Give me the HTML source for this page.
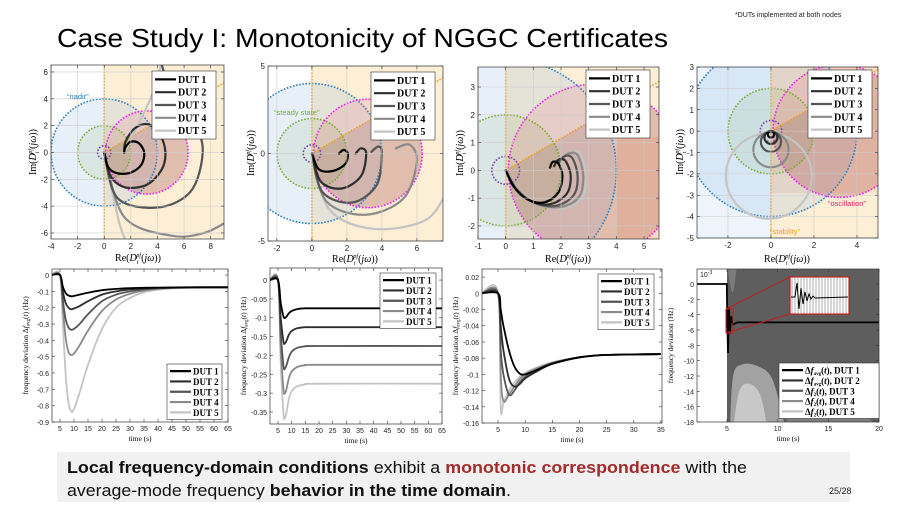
<!DOCTYPE html>
<html><head><meta charset="utf-8"><style>
html,body{margin:0;padding:0;background:#fff;}
svg{display:block;}
.tk{font:8px "Liberation Sans",sans-serif;fill:#222;}
.tks{font:7px "Liberation Sans",sans-serif;fill:#222;}
.lg{font:bold 10px "Liberation Serif",serif;fill:#000;}
.lgs{font:bold 9px "Liberation Serif",serif;fill:#000;}
.ax{font:10px "Liberation Serif",serif;fill:#000;}
.axs{font:7.5px "Liberation Serif",serif;fill:#000;}
</style></head><body>
<svg id="chart" width="907" height="510" viewBox="0 0 907 510" xmlns="http://www.w3.org/2000/svg">
<text x="735" y="17" style="font:7px 'Liberation Sans',sans-serif" fill="#222">*DUTs implemented at both nodes</text>
<text x="57" y="47" textLength="611" lengthAdjust="spacingAndGlyphs" style="font:26px 'Liberation Sans',sans-serif" fill="#000">Case Study I: Monotonicity of NGGC Certificates</text>
<rect x="57" y="452" width="793" height="50" fill="#f1f1f1"/>
<text x="67" y="473" textLength="680" lengthAdjust="spacingAndGlyphs" style="font:17px 'Liberation Sans',sans-serif" fill="#111"><tspan font-weight="bold">Local frequency-domain conditions</tspan> exhibit a <tspan font-weight="bold" fill="#a52a2a">monotonic correspondence</tspan> with the</text>
<text x="67" y="496" textLength="444" lengthAdjust="spacingAndGlyphs" style="font:17px 'Liberation Sans',sans-serif" fill="#111">average-mode frequency <tspan font-weight="bold">behavior in the time domain</tspan>.</text>
<text x="829" y="494" style="font:9px 'Liberation Sans',sans-serif" fill="#222">25/28</text>
</svg>
<script>
const NS='http://www.w3.org/2000/svg';
const svg=document.getElementById('chart');
const DUTC=['#000','#2e2e2e','#555','#8a8a8a','#c4c4c4'];
const DUTN=['DUT 1','DUT 2','DUT 3','DUT 4','DUT 5'];

/* ---------- Nyquist data (Re, Im) ---------- */
const A1=[[0,0],[0.3,-1.1],[1,-1.55],[2,-1.5],[2.8,-0.9],[3,0],[2.6,0.7],[2,0.8],[1.6,0.4],[1.5,0]];
const A2=[[0,0],[0.5,-1.8],[1.6,-2.6],[3.2,-2.4],[4.3,-1.3],[4.6,0],[4.2,1.3],[3.3,2.1],[2.3,1.8],[1.6,0.8],[1.5,0]];
const A3=[[0,0],[1,-3.4],[4,-4.1],[6.5,-2.9],[7.4,0],[6.8,2.2],[5.6,3.6],[4.8,5],[4.2,7]];
const A4=[[0,0],[1.5,-4.8],[5,-6.2],[7.5,-6],[9.5,-5]];
const A5=[[0,0],[1.2,-5.5],[2.2,-7.5]];
const A5b=[[1.5,0],[2.6,2.2],[3.6,4.3],[4.4,7]];
const B1=[[0,0],[0.4,-0.9],[1.2,-1],[1.9,-0.6],[2.05,0],[1.8,0.2],[1.55,0]];
const B2=[[0,0],[0.5,-1.6],[1.7,-2],[2.8,-1.3],[3.1,0],[2.8,0.3],[2.5,0]];
const B3=[[0,0],[0.6,-2.2],[2.3,-2.8],[3.7,-1.8],[4,0],[3.8,0.4],[3.4,0.1]];
const B4=[[0,0],[0.8,-2.7],[3,-3.5],[5.2,-2.6],[6,-0.5],[5.6,0.5],[4.8,0.3]];
const B5=[[0,0],[1,-3.2],[3.5,-4.3],[6.5,-3.8],[7.8,-2]];
const C1=[[0,0],[0.3,-0.6],[0.8,-1.05],[1.4,-1.15],[1.9,-0.8],[2.05,-0.2],[1.9,0.25],[1.7,0.3],[1.6,0.1]];
const C2=[[0,0],[0.35,-0.65],[0.9,-1.1],[1.6,-1.22],[2.2,-0.85],[2.35,-0.2],[2.15,0.35],[1.9,0.38],[1.75,0.15]];
const C3=[[0,0],[0.4,-0.7],[1,-1.15],[1.8,-1.28],[2.45,-0.9],[2.6,-0.2],[2.4,0.45],[2.1,0.5],[1.9,0.25]];
const C4=[[0,0],[0.45,-0.72],[1.1,-1.2],[2,-1.32],[2.65,-0.95],[2.8,-0.2],[2.6,0.55],[2.25,0.6],[2,0.35]];
const C5=[[0,0],[0.5,-0.75],[1.2,-1.22],[2.1,-1.36],[2.75,-1],[2.9,-0.2],[2.7,0.6],[2.35,0.65],[2.1,0.4]];
const D_cx=[0,0,0,0,-0.1];
const D_cy=[-0.15,-0.3,-0.5,-0.87,-2.1];
const D_r=[0.15,0.3,0.47,0.82,2.0];

/* ---------- time-domain data ---------- */
const E_t=[2,5,6,7,8,9,10,12,15,20,25,30,35,40,45,50,55,65];
const E1=[0,0,-0.07,-0.11,-0.125,-0.13,-0.128,-0.12,-0.108,-0.093,-0.085,-0.08,-0.078,-0.077,-0.076,-0.075,-0.075,-0.075];
const E2=[0,0,-0.1,-0.17,-0.2,-0.21,-0.205,-0.19,-0.16,-0.12,-0.1,-0.088,-0.082,-0.079,-0.077,-0.076,-0.075,-0.075];
const E3=[0,0,-0.15,-0.27,-0.32,-0.335,-0.33,-0.3,-0.24,-0.16,-0.12,-0.1,-0.088,-0.081,-0.078,-0.076,-0.075,-0.075];
const E4=[0,0,-0.2,-0.38,-0.47,-0.49,-0.48,-0.43,-0.34,-0.22,-0.15,-0.115,-0.095,-0.085,-0.079,-0.077,-0.076,-0.075];
const E5=[0,0,-0.3,-0.6,-0.78,-0.835,-0.82,-0.72,-0.55,-0.33,-0.2,-0.14,-0.105,-0.09,-0.082,-0.078,-0.076,-0.075];
const F_t=[2,5,6,7,7.5,8,9,10,12,15,20,65];
const F1=[0,0,-0.06,-0.097,-0.1,-0.098,-0.088,-0.082,-0.077,-0.075,-0.075,-0.075];
const F2=[0,0,-0.1,-0.163,-0.168,-0.163,-0.145,-0.135,-0.128,-0.125,-0.125,-0.125];
const F3=[0,0,-0.14,-0.228,-0.235,-0.228,-0.205,-0.19,-0.18,-0.176,-0.175,-0.175];
const F4=[0,0,-0.18,-0.29,-0.3,-0.292,-0.26,-0.243,-0.231,-0.226,-0.225,-0.225];
const F5=[0,0,-0.22,-0.355,-0.365,-0.355,-0.315,-0.295,-0.282,-0.277,-0.275,-0.275];
const G_t=[2,5,5.5,6,7,8,9,10,12,15,20,25,35];
const G1=[0,0,-0.02,-0.04,-0.07,-0.09,-0.099,-0.1,-0.095,-0.087,-0.079,-0.076,-0.075];
const G2=[0,0,-0.04,-0.07,-0.105,-0.115,-0.112,-0.105,-0.097,-0.087,-0.079,-0.076,-0.075];
const G3=[0,0,-0.07,-0.1,-0.125,-0.12,-0.11,-0.103,-0.095,-0.086,-0.079,-0.076,-0.075];
const G4=[0,0,-0.1,-0.133,-0.125,-0.115,-0.106,-0.1,-0.093,-0.086,-0.079,-0.076,-0.075];
const G5=[0,0,-0.14,-0.135,-0.12,-0.11,-0.103,-0.098,-0.092,-0.085,-0.079,-0.076,-0.075];
const H_t=[2,4.98,5.02,5.1,5.2,5.3,5.4,5.6,6,20];
const H_avg=[0,0,-4,-9,-3,-6.5,-4.2,-5.3,-5,-5];

function el(tag,attrs,parent){const e=document.createElementNS(NS,tag);for(const k in attrs)e.setAttribute(k,attrs[k]);(parent||svg).appendChild(e);return e;}
function mk(b,xr,yr){return {b,sx:v=>b.x0+(v-xr[0])/(xr[1]-xr[0])*(b.x1-b.x0),sy:v=>b.y1-(v-yr[0])/(yr[1]-yr[0])*(b.y1-b.y0)};}
function smooth(pts){let d='M'+pts[0][0].toFixed(1)+','+pts[0][1].toFixed(1);
 for(let i=0;i<pts.length-1;i++){const p0=pts[Math.max(i-1,0)],p1=pts[i],p2=pts[i+1],p3=pts[Math.min(i+2,pts.length-1)];
  const c1=[p1[0]+(p2[0]-p0[0])/6,p1[1]+(p2[1]-p0[1])/6],c2=[p2[0]-(p3[0]-p1[0])/6,p2[1]-(p3[1]-p1[1])/6];
  d+=' C'+c1.map(v=>v.toFixed(1))+' '+c2.map(v=>v.toFixed(1))+' '+p2.map(v=>v.toFixed(1));}
 return d;}
let clipN=0;
function frame(m,name,xt,yt,grid,small){
 const b=m.b;
 const g=el('g',{});
 
 
 const id='cl'+(clipN++);
 const cp=el('clipPath',{id},g);el('rect',{x:b.x0,y:b.y0,width:b.x1-b.x0,height:b.y1-b.y0},cp);
 el('rect',{x:b.x0,y:b.y0,width:b.x1-b.x0,height:b.y1-b.y0,fill:'#fff'},g);
 const inner=el('g',{'clip-path':'url(#'+id+')'},g);
 const over=el('g',{},g);
 if(grid){xt.forEach(v=>el('line',{x1:m.sx(v),x2:m.sx(v),y1:b.y0,y2:b.y1,stroke:'#ccc','stroke-width':0.6},over));
  yt.forEach(v=>el('line',{x1:b.x0,x2:b.x1,y1:m.sy(v),y2:m.sy(v),stroke:'#ccc','stroke-width':0.6},over));}
 const axg=el('g',{},g);
 xt.forEach(v=>{el('line',{x1:m.sx(v),x2:m.sx(v),y1:b.y1,y2:b.y1-3,stroke:'#333','stroke-width':0.6},axg);
  el('line',{x1:m.sx(v),x2:m.sx(v),y1:b.y0,y2:b.y0+3,stroke:'#333','stroke-width':0.6},axg);
  const t=el('text',{x:m.sx(v),y:b.y1+(small?9:10),'text-anchor':'middle',class:small?'tks':'tk'},axg);t.textContent=String(v);
  
  });
 yt.forEach(v=>{el('line',{x1:b.x0,x2:b.x0+3,y1:m.sy(v),y2:m.sy(v),stroke:'#333','stroke-width':0.6},axg);
  el('line',{x1:b.x1,x2:b.x1-3,y1:m.sy(v),y2:m.sy(v),stroke:'#333','stroke-width':0.6},axg);
  const t=el('text',{x:b.x0-3,y:m.sy(v)+3,'text-anchor':'end',class:small?'tks':'tk'},axg);t.textContent=String(v);
  
  });
 el('rect',{x:b.x0,y:b.y0,width:b.x1-b.x0,height:b.y1-b.y0,fill:'none',stroke:'#333','stroke-width':0.7},g);
 return {inner,over,g};
}
function legend(g,x,y,w,rh,labels,cls){
 const lg=el('g',{},g);
 
 
 el('rect',{x,y,width:w,height:rh*labels.length+4,fill:'#fff',stroke:'#333','stroke-width':0.6},lg);
 labels.forEach((lab,i)=>{const yy=y+rh*(i+0.5)+2;
  const ln=el('line',{x1:x+3,x2:x+24,y1:yy,y2:yy,stroke:DUTC[i],'stroke-width':2.2},lg);
  
  
  const t=el('text',{x:x+26,y:yy+3.5,class:cls},lg);t.innerHTML=lab;
  
  });
}
function reLabel(cx,y){const t=el('text',{x:cx,y,'text-anchor':'middle',class:'ax'});
 t.innerHTML='Re(<tspan font-style="italic">D</tspan><tspan font-size="6" dy="3" font-style="italic">i</tspan><tspan font-size="6" dy="-7" dx="-2" font-style="italic">pf</tspan><tspan dy="4">(</tspan><tspan font-style="italic">jω</tspan>))';
 
 }
function imLabel(x,cy){const t=el('text',{x:0,y:0,'text-anchor':'middle',class:'ax',transform:'translate('+x+','+cy+') rotate(-90)'});
 t.innerHTML='Im(<tspan font-style="italic">D</tspan><tspan font-size="6" dy="3" font-style="italic">i</tspan><tspan font-size="6" dy="-7" dx="-2" font-style="italic">pf</tspan><tspan dy="4">(</tspan><tspan font-style="italic">jω</tspan>))';
 
 }
function timeLabels(m,ylab){const b=m.b;
 const t=el('text',{x:(b.x0+b.x1)/2,y:b.y1+19,'text-anchor':'middle',class:'axs'});t.textContent='time (s)';
 
 
 const y=el('text',{x:0,y:0,'text-anchor':'middle',class:'axs',transform:'translate('+(b.x0-24)+','+((b.y0+b.y1)/2)+') rotate(-90)'});y.innerHTML=ylab;
 
 }

function nyquist(m,name,xt,yt,series,lx,ly,extra){
 const f=frame(m,name,xt,yt,true,false);const g=f.inner;const b=m.b;
 const ux=m.sx(1)-m.sx(0),uy=m.sy(0)-m.sy(1);
 if(extra)extra(g,m);
 el('rect',{x:m.sx(0),y:b.y0,width:b.x1-m.sx(0),height:b.y1-b.y0,fill:'rgba(250,200,120,0.3)'},g);
 const circ=(cx,cy,r,fill,stroke,nm,par)=>{const c=el('ellipse',{cx:m.sx(cx),cy:m.sy(cy),rx:r*ux,ry:r*uy,fill,stroke,'stroke-width':1.6,'stroke-dasharray':'1.6 1.6'},par||g);
  
  return c;};
 circ(0,0,4,'rgba(110,165,220,0.17)','none','nadir-disk');
 circ(0,0,2,'rgba(120,165,70,0.12)','none','steady-state-disk');
 circ(3.2,0,3.1,'rgba(235,90,110,0.15)','none','oscillation-disk');
 // brownish sector: inside magenta disk, below the ray
 const id='sec'+(clipN++);
 const cp=el('clipPath',{id},g);
 el('ellipse',{cx:m.sx(3.2),cy:m.sy(0),rx:3.1*ux,ry:3.1*uy},cp);
 const sec=el('path',{d:'M'+m.sx(0)+','+m.sy(0)+' L'+m.sx(12)+','+m.sy(12*0.577)+' L'+m.sx(12)+','+m.sy(-12)+' L'+m.sx(0)+','+m.sy(-12)+' Z',fill:'rgba(100,55,45,0.16)','clip-path':'url(#'+id+')'},g);
 
 
 circ(0,0,4,'none','#2a7fc0','nadir-circle');
 circ(0,0,2,'none','#7aab3a','steady-state-circle');
 circ(3.2,0,3.1,'none','#f020f0','oscillation-circle');
 circ(0,0,0.5,'none','#7a3fa8','small-circle');
 const vl=el('line',{x1:m.sx(0),x2:m.sx(0),y1:b.y0,y2:b.y1,stroke:'#f0a020','stroke-width':1.6,'stroke-dasharray':'1.6 1.6'},g);
 
 
 const ry=el('line',{x1:m.sx(0),y1:m.sy(0),x2:m.sx(12),y2:m.sy(12*0.577),stroke:'#f0a020','stroke-width':1.6,'stroke-dasharray':'1.6 1.6'},g);
 
 
 for(let i=series.length-1;i>=0;i--){const s=series[i];
  const p=el('path',{d:smooth(s.pts.map(q=>[m.sx(q[0]),m.sy(q[1])])),fill:'none',stroke:DUTC[s.c],'stroke-width':2.2,'stroke-linecap':'round'},g);
  
  }
 legend(f.g,lx,ly,64,12.8,DUTN,'lg');
 return f;
}
function timeplot(m,name,xt,yt,t,series,lx,ly,lw){
 const f=frame(m,name,xt,yt,false,true);
 for(let i=series.length-1;i>=0;i--){
  const p=el('path',{d:smooth(t.map((tv,k)=>[m.sx(tv),m.sy(series[i][k])])),fill:'none',stroke:DUTC[i],'stroke-width':1.8},f.inner);
  
  }
 legend(f.g,lx,ly,lw,10.3,DUTN,'lgs');
 return f;
}

/* ---- top row ---- */
const mA=mk({x0:51,y0:65,x1:224,y1:239},[-4,9],[-6.45,6.52]);
nyquist(mA,'nyquist-plot-1',[-4,-2,0,2,4,6,8],[-6,-4,-2,0,2,4,6],[{pts:A1,c:0},{pts:A2,c:1},{pts:A3,c:2},{pts:A4,c:3},{pts:A5,c:4},{pts:A5b,c:4}],152,71);
const mB=mk({x0:268,y0:66,x1:443,y1:241},[-2.51,7.49],[-5,5]);
nyquist(mB,'nyquist-plot-2',[-2,0,2,4,6],[-5,0,5],[{pts:B1,c:0},{pts:B2,c:1},{pts:B3,c:2},{pts:B4,c:3},{pts:B5,c:4}],371,72);
const mC=mk({x0:478,y0:67,x1:659,y1:239},[-1,5.54],[-2.47,3.72]);
nyquist(mC,'nyquist-plot-3',[-1,0,1,2,3,4,5],[-2,-1,0,1,2,3],[{pts:C1,c:0},{pts:C2,c:1},{pts:C3,c:2},{pts:C4,c:3},{pts:C5,c:4}],586,70,
 (g,m)=>{el('rect',{x:m.sx(4),y:m.sy(1.2),width:m.sx(6)-m.sx(4),height:m.sy(-3)-m.sy(1.2),fill:'rgba(245,120,100,0.2)'},g);});
const mD=mk({x0:697,y0:67,x1:878,y1:238},[-3.44,4.98],[-5,3]);
{const f=nyquist(mD,'nyquist-plot-4',[-2,0,2,4],[-5,-4,-3,-2,-1,0,1,2,3],[],808,70,
 (g,m)=>{el('rect',{x:m.b.x0,y:m.b.y0,width:m.sx(0)-m.b.x0,height:m.b.y1-m.b.y0,fill:'rgba(110,165,220,0.12)'},g);
  el('rect',{x:m.sx(0),y:m.b.y0,width:m.b.x1-m.sx(0),height:m.sy(-2.9)-m.b.y0,fill:'rgba(245,110,110,0.16)'},g);});
 const ux=mD.sx(1)-mD.sx(0),uy=mD.sy(0)-mD.sy(1);
 for(let i=4;i>=0;i--){const c=el('ellipse',{cx:mD.sx(D_cx[i]),cy:mD.sy(D_cy[i]),rx:D_r[i]*ux,ry:D_r[i]*uy,fill:'none',stroke:DUTC[i],'stroke-width':2.2},f.inner);
  
  }
 svg.appendChild(f.g.lastChild);}
[[67,99,'#2a7fc0','“nadir”','nadir-annotation'],[274,115,'#7aab3a','“steady state”','steady-state-annotation'],[828,206,'#e0206a','“oscillation”','oscillation-annotation'],[770,234,'#f0a020','“stability”','stability-annotation']].forEach(a=>{
 const t=el('text',{x:a[0],y:a[1],style:'font:7.5px "Liberation Sans",sans-serif',fill:a[2]});t.textContent=a[3];
 
 });
reLabel(138,261);reLabel(355,262);reLabel(568,262);reLabel(787,262);
imLabel(36,152);imLabel(254,153);imLabel(463,153);imLabel(683,152);

/* ---- bottom row ---- */
const mE=mk({x0:52,y0:269,x1:228,y1:422},[2.14,65],[-0.9,0.037]);
timeplot(mE,'freq-plot-1',[5,10,15,20,25,30,35,40,45,50,55,60,65],[0,-0.1,-0.2,-0.3,-0.4,-0.5,-0.6,-0.7,-0.8,-0.9],E_t,[E1,E2,E3,E4,E5],167,364,55);
const ylabAvg='frequency deviation Δ<tspan font-style="italic">f</tspan><tspan font-size="5" dy="1.5">avg</tspan><tspan dy="-1.5">(</tspan><tspan font-style="italic">t</tspan>) (Hz)';
timeLabels(mE,ylabAvg);
const mF=mk({x0:270,y0:268,x1:442,y1:424},[2.07,65],[-0.382,0.032]);
timeplot(mF,'freq-plot-2',[5,10,15,20,25,30,35,40,45,50,55,60,65],[0,-0.05,-0.1,-0.15,-0.2,-0.25,-0.3,-0.35],F_t,[F1,F2,F3,F4,F5],380,273,56);
timeLabels(mF,ylabAvg);
const mG=mk({x0:482,y0:269,x1:662,y1:423},[2.05,35.2],[-0.16,0.03]);
timeplot(mG,'freq-plot-3',[5,10,15,20,25,30,35],[0.02,0,-0.02,-0.04,-0.06,-0.08,-0.1,-0.12,-0.14,-0.16],G_t,[G1,G2,G3,G4,G5],598,274,56);
timeLabels(mG,ylabAvg);
const mH=mk({x0:697,y0:269,x1:879,y1:422},[2.04,20],[-18,1.96]);
{const f=frame(mH,'freq-plot-4',[5,10,15,20],[0,-2,-4,-6,-8,-10,-12,-14,-16,-18],false,true);const g=f.inner;const m=mH;
 const bg=el('rect',{x:m.sx(5),y:m.b.y0,width:m.b.x1-m.sx(5),height:m.b.y1-m.b.y0,fill:'#5e5e5e'},g);
 
 
 const poly=(pts,fill,nm)=>{const p=el('path',{d:smooth(pts.map(q=>[m.sx(q[0]),m.sy(q[1])]))+' Z',fill},g);
  
  };
 poly([[10.5,-19],[12,-15],[14,-14.2],[17,-15.5],[19,-17.5],[20,-19]],'#7c7c7c','envelope-dut4');
 poly([[5.3,-19],[5.6,-12],[6.5,-10.5],[8,-10.7],[9.5,-12.5],[10.8,-19]],'#a2a2a2','envelope-dut4b');
 poly([[5.6,-19],[6.2,-14],[7.2,-13],[8.3,-14.5],[9,-19]],'#c8c8c8','envelope-dut5');
 poly([[5.05,2.5],[5.3,0],[5.6,-1],[6,2.5]],'#7c7c7c','envelope-top');
 const p=el('path',{d:'M'+H_t.map((tv,k)=>m.sx(tv).toFixed(1)+','+m.sy(H_avg[k]).toFixed(1)).join(' L'),fill:'none',stroke:'#000','stroke-width':1.8},g);
 
 
 const e=el('text',{x:700,y:277,class:'tks'},f.g);e.innerHTML='10<tspan font-size="5" dy="-3">-3</tspan>';
 
 
 const z=el('g',{},f.g);
 
 
 el('line',{x1:726,y1:309,x2:790,y2:277,stroke:'#c02020','stroke-width':1},z);
 el('line',{x1:726,y1:333,x2:790,y2:314,stroke:'#c02020','stroke-width':1},z);
 el('rect',{x:726,y:309,width:7,height:24,fill:'none',stroke:'#c02020','stroke-width':1},z);
 el('rect',{x:790,y:277,width:59,height:37,fill:'#fff',stroke:'#c02020','stroke-width':1.2},z);
 for(let x=792;x<848;x+=3)el('line',{x1:x,x2:x,y1:278,y2:313,stroke:'#999','stroke-width':0.8},z);
 el('path',{d:'M791,297 L795,297 L797,283 L799,309 L801,288 L803,304 L805,292 L807,301 L809,294 L811,299 L813,296 L815,298 L848,297',fill:'none',stroke:'#000','stroke-width':1},z);
 legend(f.g,779,363,100,10.3,['Δ<tspan font-style="italic">f</tspan><tspan font-size="5" dy="1.5">avg</tspan><tspan dy="-1.5">(</tspan><tspan font-style="italic">t</tspan>), DUT 1','Δ<tspan font-style="italic">f</tspan><tspan font-size="5" dy="1.5">avg</tspan><tspan dy="-1.5">(</tspan><tspan font-style="italic">t</tspan>), DUT 2','Δ<tspan font-style="italic">f</tspan><tspan font-size="5" dy="1.5">2</tspan><tspan dy="-1.5">(</tspan><tspan font-style="italic">t</tspan>), DUT 3','Δ<tspan font-style="italic">f</tspan><tspan font-size="5" dy="1.5">2</tspan><tspan dy="-1.5">(</tspan><tspan font-style="italic">t</tspan>), DUT 4','Δ<tspan font-style="italic">f</tspan><tspan font-size="5" dy="1.5">2</tspan><tspan dy="-1.5">(</tspan><tspan font-style="italic">t</tspan>), DUT 5'],'lgs');
}
timeLabels(mH,'frequency deviation (Hz)');
</script>
</body></html>
